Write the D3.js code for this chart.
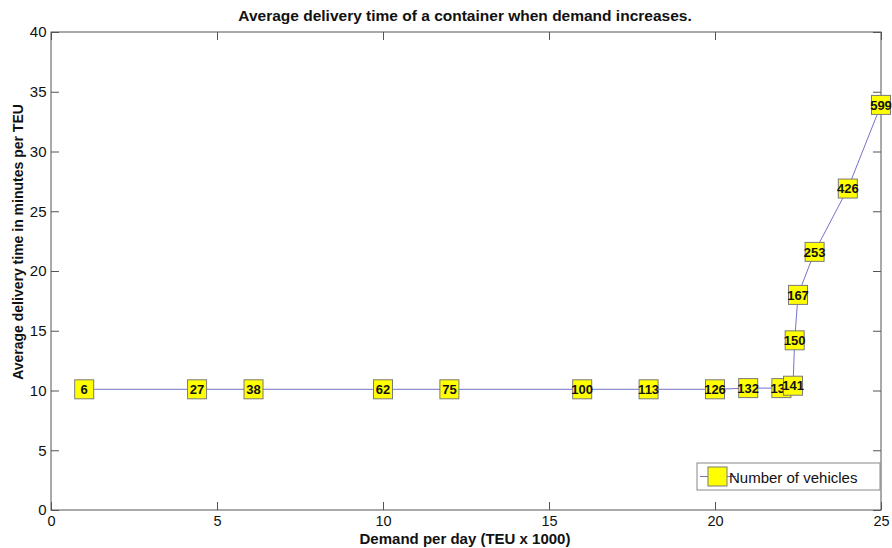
<!DOCTYPE html>
<html>
<head>
<meta charset="utf-8">
<script src="https://cdn.jsdelivr.net/npm/d3@7"></script>
<style>
  html, body { margin: 0; padding: 0; background: #fff; }
  svg { display: block; font-family: "Liberation Sans", Arial, sans-serif; }
</style>
</head>
<body>
<svg id="chart" width="892" height="548"></svg>
<script>
// Demand per day (TEU x 1000)
const demand = [1, 4.4, 6.1, 10, 12, 16, 18, 20, 21, 22, 22.35, 22.4, 22.5, 23, 24, 25];
// Average delivery time (minutes per TEU)
const deliveryTime = [10.1, 10.1, 10.1, 10.1, 10.1, 10.1, 10.1, 10.1, 10.2, 10.2, 10.4, 14.2, 18.0, 21.6, 26.9, 33.9];
// Number of vehicles used at each demand level
const vehicles = [6, 27, 38, 62, 75, 100, 113, 126, 132, 138, 141, 150, 167, 253, 426, 599];

const xTicks = [0, 5, 10, 15, 20, 25];
const yTicks = [0, 5, 10, 15, 20, 25, 30, 35, 40];

const svg = d3.select("#chart");
const m = { left: 51, right: 11, top: 32, bottom: 38 };
const W = 892, H = 548;
const pw = W - m.left - m.right, ph = H - m.top - m.bottom;

const x = d3.scaleLinear().domain([0, 25]).range([m.left, m.left + pw]);
const y = d3.scaleLinear().domain([0, 40]).range([m.top + ph, m.top]);

const axisColor = "#555";
const tickLen = 8;

// Plot frame
svg.append("rect")
  .attr("x", m.left).attr("y", m.top).attr("width", pw).attr("height", ph)
  .attr("fill", "none").attr("stroke", axisColor).attr("stroke-width", 1);

// Bottom axis with inward ticks
const gx = svg.append("g").attr("transform", `translate(0,${m.top + ph})`)
  .call(d3.axisBottom(x).tickValues(xTicks).tickSize(-tickLen).tickPadding(6).tickFormat(d3.format("d")));
// Top mirrored ticks
const gxt = svg.append("g").attr("transform", `translate(0,${m.top})`)
  .call(d3.axisTop(x).tickValues(xTicks).tickSize(-tickLen).tickFormat(""));
// Left axis
const gy = svg.append("g").attr("transform", `translate(${m.left},0)`)
  .call(d3.axisLeft(y).tickValues(yTicks).tickSize(-tickLen).tickPadding(3).tickFormat(d3.format("d")));
// Right mirrored ticks
const gyr = svg.append("g").attr("transform", `translate(${m.left + pw},0)`)
  .call(d3.axisRight(y).tickValues(yTicks).tickSize(-tickLen).tickFormat(""));

[gx, gxt, gy, gyr].forEach(g => {
  g.select(".domain").remove();
  g.selectAll(".tick line").attr("stroke", axisColor);
  g.selectAll(".tick text").attr("fill", "#111").attr("font-size", 15)
    .attr("font-family", "'Liberation Sans', Arial, sans-serif");
});
gx.selectAll(".tick text").attr("font-size", 14.5);
gy.selectAll(".tick text").attr("dx", "-0.1em");

// Title and axis labels
svg.append("text").attr("x", 465).attr("y", 21)
  .attr("text-anchor", "middle").attr("font-size", 15.5).attr("font-weight", "bold")
  .attr("fill", "#111").text("Average delivery time of a container when demand increases.");
svg.append("text").attr("x", 465).attr("y", 544)
  .attr("text-anchor", "middle").attr("font-size", 15).attr("font-weight", "bold")
  .attr("fill", "#111").text("Demand per day (TEU x 1000)");
svg.append("text")
  .attr("transform", `translate(23,242) rotate(-90)`)
  .attr("text-anchor", "middle").attr("font-size", 14).attr("font-weight", "bold")
  .attr("fill", "#111").text("Average delivery time in minutes per TEU");

const data = demand.map((d, i) => ({ x: d, y: deliveryTime[i], n: vehicles[i] }));

// Connecting line
svg.append("path").datum(data)
  .attr("fill", "none").attr("stroke", "#7373c8").attr("stroke-width", 1)
  .attr("d", d3.line().x(d => x(d.x)).y(d => y(d.y)));

// Square markers with vehicle counts
const box = 19;
const pts = svg.append("g").selectAll("g").data(data).join("g")
  .attr("transform", d => `translate(${x(d.x)},${y(d.y)})`);
pts.append("rect")
  .attr("x", -box / 2).attr("y", -box / 2).attr("width", box).attr("height", box)
  .attr("fill", "#ffff00").attr("stroke", "#7a7a7a").attr("stroke-width", 1);
pts.append("text")
  .attr("text-anchor", "middle").attr("dy", "0.36em")
  .attr("font-size", 13).attr("font-weight", "bold").attr("fill", "#111")
  .text(d => d.n);

// Legend
const lg = svg.append("g").attr("transform", "translate(697,463)");
lg.append("rect").attr("width", 183).attr("height", 27)
  .attr("fill", "#fff").attr("stroke", "#888").attr("stroke-width", 1);
lg.append("line").attr("x1", 3).attr("x2", 39).attr("y1", 13.5).attr("y2", 13.5)
  .attr("stroke", "#7373c8").attr("stroke-width", 1);
lg.append("rect").attr("x", 11).attr("y", 4).attr("width", 19).attr("height", 19)
  .attr("fill", "#ffff00").attr("stroke", "#7a7a7a");
lg.append("text").attr("x", 32).attr("y", 19.5).attr("font-size", 15).attr("fill", "#111")
  .text("Number of vehicles");
</script>
</body>
</html>
